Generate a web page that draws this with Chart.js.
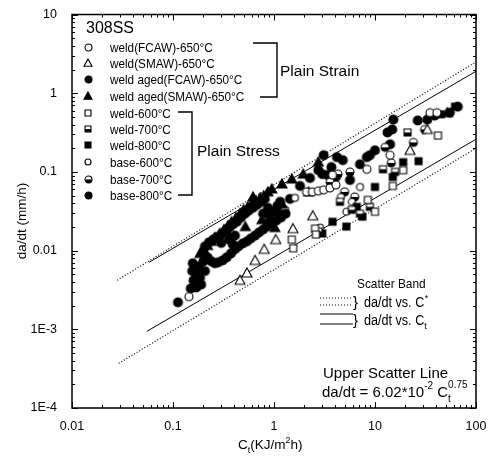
<!DOCTYPE html>
<html>
<head>
<meta charset="utf-8">
<script src="https://cdn.jsdelivr.net/npm/chart.js@4/dist/chart.umd.min.js"></script>
<style>
  html, body { margin: 0; background: #fff; }
  #c { display: block; }
</style>
</head>
<body>
<canvas id="c" width="495" height="461"></canvas>
<script>
// axis ticks
const xTicks = [0.01, 0.1, 1, 10, 100];
const xTickLabels = ['0.01', '0.1', '1', '10', '100'];
const yTicks = [1e-4, 1e-3, 0.01, 0.1, 1, 10];
const yTickLabels = ['1E-4', '1E-3', '0.01', '0.1', '1', '10'];

// series names, in legend order
const seriesNames = [
  'weld(FCAW)-650°C', 'weld(SMAW)-650°C', 'weld aged(FCAW)-650°C', 'weld aged(SMAW)-650°C',
  'weld-600°C', 'weld-700°C', 'weld-800°C', 'base-600°C', 'base-700°C', 'base-800°C'
];

// [Ct, da/dt] pairs
const weldFcaw650 = [
  [0.144, 0.0026], [2.1, 0.0557], [2.4, 0.0557], [2.75, 0.0573], [3.1, 0.059], [3.58, 0.0625],
  [4.1, 0.0682], [3.8, 0.0912], [8.3, 0.108], [14.1, 0.163], [35, 0.566], [41, 0.566]
];
const weldSmaw650 = [
  [0.46, 0.0042], [0.54, 0.0052], [0.65, 0.0075], [0.8, 0.0104], [1.04, 0.0138], [1.54, 0.019],
  [2.42, 0.0277], [22.2, 0.188], [33, 0.346]
];
const weldAgedFcaw650 = [
  [0.112, 0.0022], [0.15, 0.0033], [0.19, 0.0037], [0.155, 0.0055], [0.207, 0.0055], [0.185, 0.0045],
  [0.157, 0.0069], [0.17, 0.0034], [0.16, 0.0042], [0.17, 0.0052], [0.18, 0.0063], [0.2, 0.0073],
  [0.22, 0.0082], [0.24, 0.0073], [0.26, 0.0069], [0.28, 0.0071], [0.31, 0.0075], [0.34, 0.0082],
  [0.375, 0.0092], [0.41, 0.0104], [0.445, 0.0113], [0.49, 0.0123], [0.54, 0.0131], [0.59, 0.0143],
  [0.65, 0.0155], [0.71, 0.017], [0.78, 0.0185], [0.85, 0.0202], [0.94, 0.022], [1.05, 0.024],
  [1.17, 0.0262], [0.207, 0.0113], [0.227, 0.0127], [0.25, 0.0138], [0.27, 0.0147], [0.3, 0.016],
  [0.327, 0.0175], [0.36, 0.0196], [0.39, 0.0214], [0.43, 0.0233], [0.47, 0.0262], [0.516, 0.0294],
  [0.56, 0.0321], [0.62, 0.035], [0.68, 0.0382], [0.75, 0.0417], [0.81, 0.0454],
  [0.36, 0.0138], [0.39, 0.012], [0.41, 0.0155], [0.78, 0.0294], [0.87, 0.035], [0.98, 0.0312],
  [1.08, 0.0371], [0.91, 0.0247], [1.12, 0.0294], [1.3, 0.0294], [0.2, 0.0095], [0.3, 0.0125]
];
const weldAgedSmaw650 = [
  [0.185, 0.0092], [0.2, 0.0104], [0.22, 0.0116], [0.24, 0.0131], [0.26, 0.0147], [0.29, 0.0165],
  [0.32, 0.0185], [0.35, 0.0208], [0.38, 0.0233], [0.42, 0.0262], [0.46, 0.0294], [0.5, 0.033],
  [0.55, 0.036], [0.6, 0.0393], [0.66, 0.0429], [0.73, 0.0468], [0.79, 0.0495], [0.87, 0.0557],
  [0.95, 0.0607], [0.62, 0.0481], [1.2, 0.0702], [1.5, 0.0812], [1.95, 0.0938], [2.75, 0.133],
  [2.2, 0.0557], [0.91, 0.0312], [1.2, 0.0393], [0.76, 0.0247], [1.02, 0.0196], [52, 0.566],
  [0.366, 0.0151], [0.52, 0.0202]
];
const weld600 = [
  [42, 0.29], [19, 0.105], [15, 0.0663], [2.55, 0.019], [2.6, 0.016], [1.5, 0.0138],
  [1.55, 0.0107], [10, 0.0312], [8.5, 0.0441]
];
const weld700 = [
  [21, 0.317], [12, 0.108], [15.8, 0.1], [2.75, 0.0175], [7.1, 0.0294], [8.9, 0.036],
  [5.9, 0.033], [4.5, 0.0417]
];
const weld800 = [
  [27, 0.137], [19, 0.133], [15, 0.086], [10, 0.0644], [6.6, 0.036], [7.5, 0.027],
  [5.2, 0.0202], [3.8, 0.0233], [3, 0.0165], [62, 0.675], [45, 0.54]
];
const base600 = [
  [1.61, 0.0468], [1.29, 0.033], [4.6, 0.0481], [5.9, 0.0417], [5.2, 0.0312], [2.85, 0.0196],
  [7.1, 0.0644]
];
const base700 = [
  [24, 0.237], [31, 0.346], [3.6, 0.0744], [4.3, 0.0938], [5.65, 0.0994], [5, 0.0557],
  [6.3, 0.0481], [12.6, 0.205], [14.5, 0.13]
];
const base800 = [
  [3.4, 0.0912], [4.8, 0.141], [7.1, 0.125], [8.9, 0.163], [8.3, 0.154], [10, 0.188],
  [14.1, 0.224], [13.3, 0.317], [14.8, 0.346], [15.2, 0.462], [26.5, 0.45], [33, 0.462],
  [39, 0.519], [55, 0.566], [66, 0.675], [1.81, 0.0663], [2.27, 0.0836], [2.75, 0.105],
  [4.1, 0.086], [5.65, 0.0788], [1.15, 0.0417], [1.44, 0.0454], [3.1, 0.163], [4.2, 0.154],
  [3, 0.0938], [3.7, 0.115]
];

// scatter band lines, end points
const upperSolid = [[0.058, 0.0071], [100, 1.9]];
const lowerSolid = [[0.055, 0.00094], [100, 0.26]];
const upperDotted = [[0.028, 0.0042], [100, 2.5]];
const lowerDotted = [[0.029, 0.00037], [100, 0.2]];

const FONT = '"Liberation Sans", Arial, Helvetica, sans-serif';

// small canvas markers
function marker(kind, s) {
  const pad = 2;
  const c = document.createElement('canvas');
  c.width = c.height = s + 2 * pad;
  const g = c.getContext('2d');
  const m = c.width / 2, r = s / 2;
  g.lineWidth = 1.1;
  g.strokeStyle = '#000';
  g.fillStyle = '#000';
  const shape = () => {
    g.beginPath();
    if (kind[1] === 'c') g.arc(m, m, r, 0, Math.PI * 2);
    else if (kind[1] === 't') { g.moveTo(m, m - r); g.lineTo(m + r, m + r * 0.8); g.lineTo(m - r, m + r * 0.8); g.closePath(); }
    else g.rect(m - r, m - r, s, s);
  };
  shape();
  if (kind[0] === 'f') { g.fill(); g.stroke(); return c; }
  g.fillStyle = '#fff'; g.fill();
  if (kind[0] === 'h') {
    g.save(); g.clip();
    g.fillStyle = '#000'; g.fillRect(0, m, c.width, c.height);
    g.restore();
    shape();
  }
  g.stroke();
  return c;
}

const kinds = ['oc', 'ot', 'fc', 'ft', 'os', 'hs', 'fs', 'oc', 'hc', 'fc'];
const dataSizes = [8, 10, 9, 10, 7, 7, 7, 7, 8, 9];
const legendSizes = [7, 8, 7, 8, 6, 6, 6, 6, 7, 7];
const allSeries = [weldFcaw650, weldSmaw650, weldAgedFcaw650, weldAgedSmaw650, weld600, weld700, weld800, base600, base700, base800];

const pts = a => a.map(([x, y]) => ({ x, y }));

const datasets = allSeries.map((s, i) => ({
  label: seriesNames[i],
  data: pts(s),
  pointStyle: marker(kinds[i], dataSizes[i]),
  pointRadius: 4,
  showLine: false
}));
[[upperSolid, []], [lowerSolid, []], [upperDotted, [1, 2]], [lowerDotted, [1, 2]]].forEach(([d, dash], i) => {
  datasets.push({
    label: 'band' + i, data: pts(d), showLine: true, pointRadius: 0,
    borderColor: '#000', borderWidth: dash.length ? 1.2 : 1, borderDash: dash
  });
});

function text(ctx, s, x, y, size, sx = 1, align = 'left') {
  ctx.save();
  ctx.font = size + 'px ' + FONT;
  ctx.fillStyle = '#000';
  ctx.textAlign = align;
  ctx.textBaseline = 'alphabetic';
  ctx.translate(x, y);
  ctx.scale(sx, 1);
  ctx.fillText(s, 0, 0);
  const w = ctx.measureText(s).width * sx;
  ctx.restore();
  return w;
}

function seg(ctx, pts, w = 1.4, dash = []) {
  ctx.save();
  ctx.strokeStyle = '#000';
  ctx.lineWidth = w;
  ctx.setLineDash(dash);
  ctx.beginPath();
  pts.forEach(([x, y], i) => i ? ctx.lineTo(x, y) : ctx.moveTo(x, y));
  ctx.stroke();
  ctx.restore();
}

const frame = {
  id: 'frame',
  afterDraw(chart) {
    const { ctx, chartArea: a, scales: { x, y } } = chart;
    // box
    ctx.save();
    ctx.strokeStyle = '#000';
    ctx.lineWidth = 1.5;
    ctx.strokeRect(a.left, a.top, a.right - a.left, a.bottom - a.top);
    ctx.lineWidth = 1;
    // inward ticks on all sides
    ctx.beginPath();
    for (let d = 0; d < xTicks.length; d++) {
      for (let k = 1; k <= 9; k++) {
        const v = xTicks[d] * k;
        if (k > 1 && d === xTicks.length - 1) continue;
        const px = Math.round(x.getPixelForValue(v)) + 0.5;
        const len = k === 1 ? 6 : 3;
        ctx.moveTo(px, a.bottom); ctx.lineTo(px, a.bottom - len);
        ctx.moveTo(px, a.top); ctx.lineTo(px, a.top + len);
      }
    }
    for (let d = 0; d < yTicks.length; d++) {
      for (let k = 1; k <= 9; k++) {
        const v = yTicks[d] * k;
        if (k > 1 && d === yTicks.length - 1) continue;
        const py = Math.round(y.getPixelForValue(v)) + 0.5;
        const len = k === 1 ? 6 : 3;
        ctx.moveTo(a.left, py); ctx.lineTo(a.left + len, py);
        ctx.moveTo(a.right, py); ctx.lineTo(a.right - len, py);
      }
    }
    ctx.stroke();
    ctx.restore();

    // title and legend
    text(ctx, '308SS', 86, 33, 16);
    const rows = [47, 63, 79, 96, 113, 129, 145, 162, 179, 195];
    rows.forEach((ry, i) => {
      const m = marker(kinds[i], legendSizes[i]);
      ctx.drawImage(m, Math.round(88 - m.width / 2), Math.round(ry - m.height / 2));
      text(ctx, seriesNames[i], 110, ry + 5, 13.5, 0.87);
    });
    seg(ctx, [[253, 43], [277, 43], [277, 97], [260, 97]]);
    text(ctx, 'Plain Strain', 280, 76, 15.5);
    seg(ctx, [[178, 112], [192, 112], [192, 195], [178, 195]]);
    text(ctx, 'Plain Stress', 197, 156, 15.5);

    // scatter band key
    text(ctx, 'Scatter Band', 357, 288, 13.5, 0.88);
    seg(ctx, [[320, 298], [353, 298]], 1, [1, 2]);
    seg(ctx, [[320, 305], [353, 305]], 1, [1, 2]);
    seg(ctx, [[320, 314], [353, 314]], 1);
    seg(ctx, [[320, 324], [353, 324]], 1);
    text(ctx, '}', 353, 307, 15);
    text(ctx, '}', 353, 325, 15);
    let w = text(ctx, 'da/dt vs. C', 364, 307, 14, 0.9);
    text(ctx, '*', 364 + w + 0.5, 301, 9);
    w = text(ctx, 'da/dt vs. C', 364, 325, 14, 0.9);
    text(ctx, 't', 364 + w, 329, 9);

    // upper scatter line formula
    text(ctx, 'Upper Scatter Line', 323, 378, 15);
    let fx = 322;
    fx += text(ctx, 'da/dt = 6.02*10', fx, 397, 15);
    fx += text(ctx, '-2', fx, 389, 10);
    fx += text(ctx, ' C', fx, 397, 15);
    text(ctx, 't', fx, 402, 10);
    text(ctx, '0.75', fx, 388, 10);

    // axis titles
    ctx.save();
    ctx.translate(26, 221);
    ctx.rotate(-Math.PI / 2);
    text(ctx, 'da/dt (mm/h)', 0, 0, 13.5, 1, 'center');
    ctx.restore();
    let tx = 238;
    tx += text(ctx, 'C', tx, 449, 13.5);
    tx += text(ctx, 't', tx, 453, 9);
    tx += text(ctx, '(KJ/m', tx, 449, 13.5);
    tx += text(ctx, '2', tx, 443, 9);
    text(ctx, 'h)', tx, 449, 13.5);
  }
};

new Chart(document.getElementById('c'), {
  type: 'scatter',
  data: { datasets },
  options: {
    responsive: false,
    animation: false,
    layout: { padding: { top: 11, right: 19, left: 0, bottom: 0 } },
    plugins: { legend: { display: false }, tooltip: { enabled: false } },
    scales: {
      x: {
        type: 'logarithmic', min: 0.01, max: 100,
        grid: { display: false }, border: { display: false },
        afterBuildTicks: s => { s.ticks = xTicks.map(v => ({ value: v })); },
        afterFit: s => { s.height = 53; },
        ticks: {
          autoSkip: false, maxRotation: 0, padding: 3, color: '#000',
          font: { size: 12.5, family: FONT },
          callback: (v, i) => xTickLabels[i]
        }
      },
      y: {
        type: 'logarithmic', min: 1e-4, max: 10,
        grid: { display: false }, border: { display: false },
        afterBuildTicks: s => { s.ticks = yTicks.map(v => ({ value: v })); },
        afterFit: s => { s.width = 72; },
        ticks: {
          autoSkip: false, padding: 7, color: '#000',
          font: { size: 12.5, family: FONT },
          callback: (v, i) => yTickLabels[i]
        }
      }
    }
  },
  plugins: [frame]
});
</script>
</body>
</html>
